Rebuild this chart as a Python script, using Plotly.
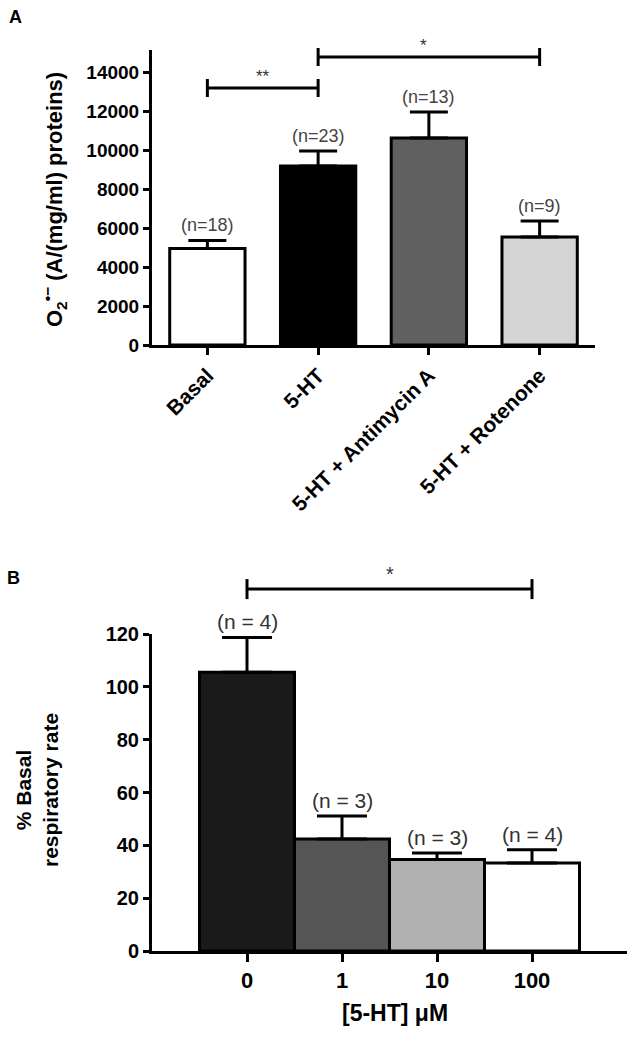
import plotly.graph_objects as go

# ---------------- data ----------------
cats_a = ["Basal", "5-HT", "5-HT + Antimycin A", "5-HT + Rotenone"]
vals_a = [4950, 9180, 10620, 5540]
errs_a = [410, 770, 1330, 820]
n_a = ["(n=18)", "(n=23)", "(n=13)", "(n=9)"]
colors_a = ["#ffffff", "#000000", "#606060", "#d4d4d4"]
ticks_a = [0, 2000, 4000, 6000, 8000, 10000, 12000, 14000]
sig_a = [(0, 1, "**", 13180), (1, 3, "*", 14770)]

cats_b = ["0", "1", "10", "100"]
vals_b = [105.5, 42.4, 34.6, 33.3]
errs_b = [13.2, 8.7, 2.5, 5.0]
n_b = ["(n = 4)", "(n = 3)", "(n = 3)", "(n = 4)"]
colors_b = ["#1a1a1a", "#555555", "#b0b0b0", "#ffffff"]
ticks_b = [0, 20, 40, 60, 80, 100, 120]
sig_b = [(0, 3, "*", 137)]

W, H = 638, 1041
FONT = "Liberation Sans, Arial, sans-serif"

# axis geometry (paper fractions)
xdom_a = [152 / W, 595 / W]
ydom_a = [1 - 345 / H, 1 - 50 / H]
xr_a = [-0.5, 3.5]
yr_a = [0, 15130]

xdom_b = [152 / W, 627 / W]
ydom_b = [1 - 951 / H, 1 - 634 / H]
xr_b = [-1, 4]
yr_b = [0, 120]


def to_px(v, dom, rng):
    return dom[0] + (v - rng[0]) / (rng[1] - rng[0]) * (dom[1] - dom[0])


fig = go.Figure()

fig.add_trace(go.Bar(
    x=list(range(len(cats_a))), y=vals_a, width=0.68,
    marker=dict(color=colors_a, line=dict(color="black", width=3)),
    error_y=dict(type="data", symmetric=False, array=errs_a,
                 arrayminus=[0] * len(errs_a), thickness=3, width=19, color="black"),
    xaxis="x", yaxis="y", showlegend=False, hoverinfo="skip",
))
fig.add_trace(go.Bar(
    x=list(range(len(cats_b))), y=vals_b, width=1.0,
    marker=dict(color=colors_b, line=dict(color="black", width=3)),
    error_y=dict(type="data", symmetric=False, array=errs_b,
                 arrayminus=[0] * len(errs_b), thickness=3, width=25, color="black"),
    xaxis="x2", yaxis="y2", showlegend=False, hoverinfo="skip",
))

axis_common = dict(showline=True, linecolor="black", linewidth=3, ticks="outside",
                   tickwidth=3, tickcolor="black", showgrid=False, zeroline=False,
                   automargin=False, fixedrange=True)

fig.update_layout(
    width=W, height=H,
    margin=dict(l=0, r=0, t=0, b=0, autoexpand=False),
    paper_bgcolor="white", plot_bgcolor="white",
    showlegend=False, bargap=0,
    xaxis=dict(domain=xdom_a, range=xr_a, anchor="y",
               tickvals=list(range(len(cats_a))), ticktext=cats_a, tickangle=-45,
               ticklen=7,
               tickfont=dict(family=FONT, size=21, color="black", weight="bold"),
               **axis_common),
    yaxis=dict(domain=ydom_a, range=yr_a, anchor="x",
               tickvals=ticks_a, ticktext=[str(t) for t in ticks_a], ticklen=6,
               tickfont=dict(family=FONT, size=19, color="black", weight="bold"),
               **axis_common),
    xaxis2=dict(domain=xdom_b, range=xr_b, anchor="y2",
                tickvals=list(range(len(cats_b))), ticktext=cats_b, ticklen=8,
                tickfont=dict(family=FONT, size=22, color="black", weight="bold"),
                **axis_common),
    yaxis2=dict(domain=ydom_b, range=yr_b, anchor="x2",
                tickvals=ticks_b, ticktext=[str(t) for t in ticks_b], ticklen=6,
                tickfont=dict(family=FONT, size=20, color="black", weight="bold"),
                **axis_common),
)

annotations = []
shapes = []

# n labels
for i, (v, e, t) in enumerate(zip(vals_a, errs_a, n_a)):
    annotations.append(dict(x=i, y=v + e, xref="x", yref="y", text=t, showarrow=False,
                            yanchor="bottom", yshift=3,
                            font=dict(family=FONT, size=18, color="#444444")))
for i, (v, e, t) in enumerate(zip(vals_b, errs_b, n_b)):
    annotations.append(dict(x=i, y=v + e, xref="x2", yref="y2", text=t, showarrow=False,
                            yanchor="bottom", yshift=2,
                            font=dict(family=FONT, size=21, color="#333333")))


def bracket(i0, i1, txt, yv, xdom, xr, ydom, yr, cap_px, star_size, star_gap):
    x0 = to_px(i0, xdom, xr)
    x1 = to_px(i1, xdom, xr)
    yy = to_px(yv, ydom, yr)
    cap = cap_px / H
    shapes.append(dict(type="line", xref="paper", yref="paper", x0=x0, x1=x1, y0=yy, y1=yy,
                       line=dict(color="black", width=3)))
    for xx in (x0, x1):
        shapes.append(dict(type="line", xref="paper", yref="paper", x0=xx, x1=xx,
                           y0=yy - cap, y1=yy + cap, line=dict(color="black", width=3)))
    annotations.append(dict(x=(x0 + x1) / 2, y=yy, xref="paper", yref="paper", text=txt,
                            showarrow=False, yanchor="bottom", yshift=star_gap,
                            font=dict(family=FONT, size=star_size, color="#333333")))


for i0, i1, txt, yv in sig_a:
    bracket(i0, i1, txt, yv, xdom_a, xr_a, ydom_a, yr_a, 9, 17, 0)
for i0, i1, txt, yv in sig_b:
    bracket(i0, i1, txt, yv, xdom_b, xr_b, ydom_b, yr_b, 10, 20, 2)

# axis titles & panel letters
annotations.append(dict(x=54 / W, y=1 - 200 / H, xref="paper", yref="paper",
                        text="O<sub>2</sub><sup>•−</sup> (A/(mg/ml) proteins)",
                        textangle=-90, showarrow=False, xanchor="center", yanchor="middle",
                        font=dict(family=FONT, size=22, color="black", weight="bold")))
annotations.append(dict(x=37 / W, y=1 - 790 / H, xref="paper", yref="paper",
                        text="% Basal<br>respiratory rate",
                        textangle=-90, showarrow=False, xanchor="center", yanchor="middle",
                        font=dict(family=FONT, size=21, color="black", weight="bold")))
annotations.append(dict(x=395 / W, y=1 - 1013 / H, xref="paper", yref="paper",
                        text="[5-HT] μM", showarrow=False, xanchor="center", yanchor="middle",
                        font=dict(family=FONT, size=23, color="black", weight="bold")))
annotations.append(dict(x=15 / W, y=1 - 17 / H, xref="paper", yref="paper", text="A",
                        showarrow=False, xanchor="center", yanchor="middle",
                        font=dict(family=FONT, size=18, color="black", weight="bold")))
annotations.append(dict(x=13 / W, y=1 - 578 / H, xref="paper", yref="paper", text="B",
                        showarrow=False, xanchor="center", yanchor="middle",
                        font=dict(family=FONT, size=18, color="black", weight="bold")))

fig.update_layout(annotations=annotations, shapes=shapes)
fig.write_html("out.html", config={"displayModeBar": False, "staticPlot": True},
               post_script="document.body.style.margin='0px';")
